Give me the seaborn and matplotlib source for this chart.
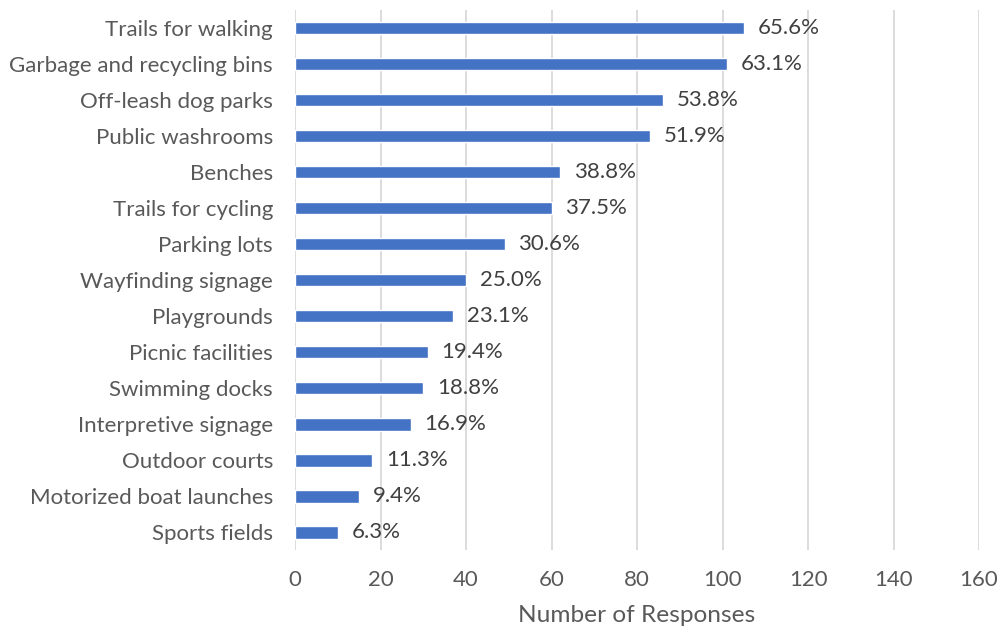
import matplotlib
matplotlib.use("Agg")
import matplotlib.pyplot as plt
import seaborn as sns
import pandas as pd

categories = ["Trails for walking", "Garbage and recycling bins", "Off-leash dog parks",
              "Public washrooms", "Benches", "Trails for cycling", "Parking lots",
              "Wayfinding signage", "Playgrounds", "Picnic facilities", "Swimming docks",
              "Interpretive signage", "Outdoor courts", "Motorized boat launches", "Sports fields"]
responses = [105, 101, 86, 83, 62, 60, 49, 40, 37, 31, 30, 27, 18, 15, 10]
percent_labels = ["65.6%", "63.1%", "53.8%", "51.9%", "38.8%", "37.5%", "30.6%", "25.0%",
                  "23.1%", "19.4%", "18.8%", "16.9%", "11.3%", "9.4%", "6.3%"]
x_ticks = [0, 20, 40, 60, 80, 100, 120, 140, 160]

sns.set_theme(style="white")
plt.rcParams['font.family'] = ['Lato', 'DejaVu Sans']

df = pd.DataFrame({"category": categories, "responses": responses})

fig = plt.figure(figsize=(9.97, 6.31), dpi=100)
ax = fig.add_axes([0.296, 0.128, 0.686, 0.856])
sns.barplot(data=df, y="category", x="responses", color="#4472C4", width=0.35,
            saturation=1, ax=ax, orient="h")

ax.set_xlim(0, 160)
ax.set_ylim(len(categories) - 0.5, -0.5)
ax.set_xticks(x_ticks)
ax.xaxis.grid(True, color="#D9D9D9", linewidth=1.3)
ax.set_axisbelow(True)
for s in ax.spines.values():
    s.set_visible(False)

fs = 16
text_color = "#595959"
ax.tick_params(axis="y", length=0, pad=16, labelsize=fs, labelcolor=text_color)
ax.tick_params(axis="x", length=0, pad=14, labelsize=fs, labelcolor=text_color)
ax.set_ylabel("")
ax.set_xlabel("Number of Responses", fontsize=17.6, color=text_color, labelpad=11)

for i, (v, lab) in enumerate(zip(responses, percent_labels)):
    ax.annotate(lab, xy=(v, i), xytext=(10, 0), textcoords="offset points",
                va="center", ha="left", fontsize=fs, color="#404040")

fig.savefig("out.png", dpi=100)
